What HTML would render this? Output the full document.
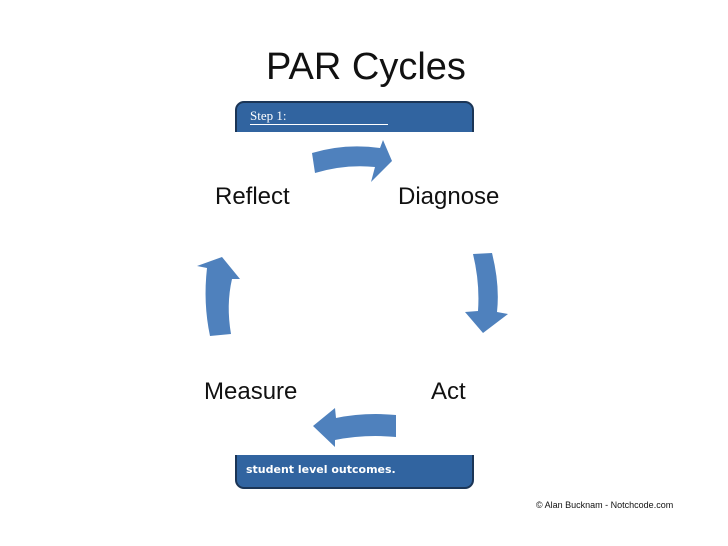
<!DOCTYPE html>
<html><head><style>
body{margin:0;background:#fff;}
.t{position:absolute;font-family:"Liberation Sans",sans-serif;color:#111;}
</style></head><body>
<div style="position:relative;width:728px;height:546px;overflow:hidden;background:#fff">
<div style="position:absolute;left:235px;top:101px;width:235px;height:40px;background:#3164a0;border:2px solid #1b3556;border-radius:9px;"></div>
<div style="position:absolute;left:250px;top:108px;font:13px 'Liberation Serif',serif;color:#fff;border-bottom:1px solid #fff;width:138px">Step 1:</div>
<div style="position:absolute;left:235px;top:440px;width:235px;height:45px;background:#3164a0;border:2px solid #1b3556;border-radius:9px;"></div>
<div style="position:absolute;left:246px;top:463px;font:bold 11px 'DejaVu Sans',sans-serif;color:#fff">student level outcomes.</div>
<div style="position:absolute;left:0;top:132px;width:728px;height:323px;background:#fff"></div>
<div class="t" style="left:266px;top:46px;font-size:38px">PAR Cycles</div>
<div class="t" style="left:215px;top:183px;font-size:24px">Reflect</div>
<div class="t" style="left:398px;top:183px;font-size:24px">Diagnose</div>
<div class="t" style="left:204px;top:378px;font-size:24px">Measure</div>
<div class="t" style="left:431px;top:378px;font-size:24px">Act</div>
<div class="t" style="left:536px;top:500px;font-size:9px">© Alan Bucknam - Notchcode.com</div>
<svg width="728" height="546" style="position:absolute;left:0;top:0">
<g fill="#4f81bd">
<path d="M312,153 Q345,143 380,148 L383,140 L392,161 L371,182 L375,167 Q345,164 315,173 Z"/>
<path d="M473,254 L492,253 Q500,285 497,312 L508,314 L483,333 L465,312 L478,311 Q480,283 473,254 Z"/>
<path d="M396,415 L396,437 Q365,434 335,440 L335,447 L313,426 L335,408 L336,418 Q365,412 396,415 Z"/>
<path d="M210,336 L231,334 Q226,305 232,279 L240,279 L222,257 L197,266 L207,268 Q203,303 210,336 Z"/>
</g></svg>
</div>
</body></html>
